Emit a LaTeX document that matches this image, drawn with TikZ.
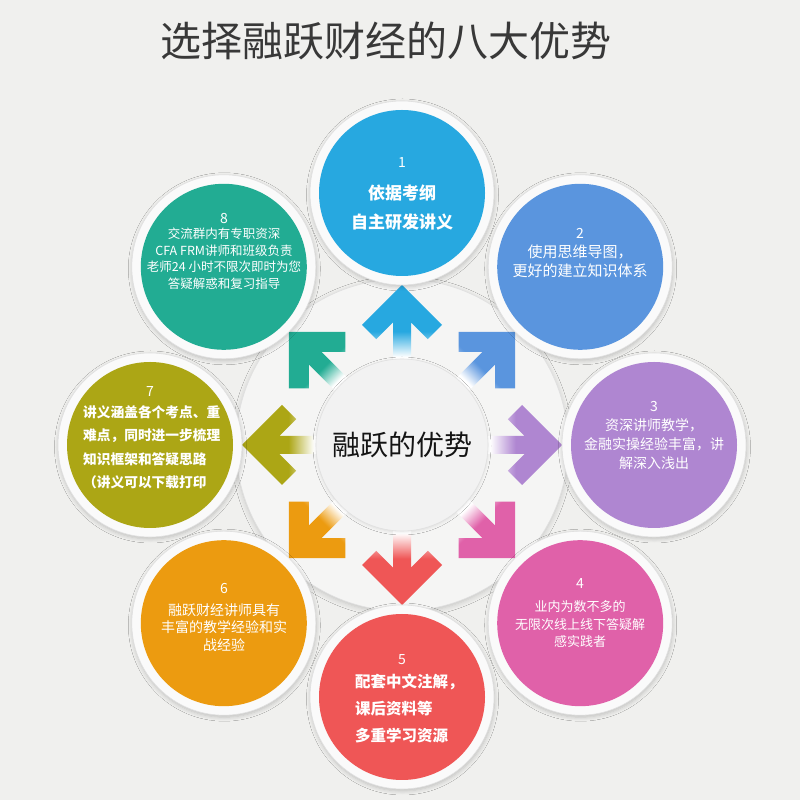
\documentclass[tikz,border=0pt]{standalone}
\usepackage{fontspec}
\setmainfont{Noto Sans CJK SC}
\usetikzlibrary{calc,shadows.blur}
\definecolor{bg}{HTML}{F0F0EE}
\definecolor{diskc}{HTML}{F5F5F4}
\definecolor{innerc}{HTML}{F2F2F2}
\definecolor{ringc}{HTML}{FAFAFA}
\definecolor{cA}{HTML}{27A8E0}
\definecolor{cB}{HTML}{5A95DE}
\definecolor{cC}{HTML}{AF86D1}
\definecolor{cD}{HTML}{E061A9}
\definecolor{cE}{HTML}{EF5656}
\definecolor{cF}{HTML}{EC9B10}
\definecolor{cG}{HTML}{ACA615}
\definecolor{cH}{HTML}{22AC93}
\colorlet{arrcol}{white}
\pgfdeclareverticalshading[arrcol]{arrowfade}{100bp}{color(0bp)=(white); color(30bp)=(white); color(46bp)=(arrcol); color(100bp)=(arrcol)}
\tikzset{
  ring/.style={circle, inner sep=0pt, minimum size=184pt, fill=ringc, draw=black!12, line width=0.6pt,
    blur shadow={shadow blur steps=6, shadow xshift=0.5pt, shadow yshift=-2pt, shadow blur radius=4pt, shadow opacity=20}},
  disc/.style={circle, inner sep=0pt, minimum size=166pt},
  numlbl/.style={text=white, inner sep=0pt, font=\fontsize{14}{16}\selectfont},
  txtlbl/.style={text=white, inner sep=0pt, align=center},
}
\begin{document}
\begin{tikzpicture}[x=1pt,y=1pt]
\useasboundingbox (0,0) rectangle (800,800);
\fill[bg] (0,0) rectangle (800,800);
% title
\node[text=black!78, font=\fontsize{41}{43}\selectfont] (title) at (386,759) {选择融跃财经的八大优势};
% big disk
\node[circle, inner sep=0pt, minimum size=332pt, fill=diskc, draw=black!12, line width=0.6pt,
  blur shadow={shadow blur steps=6, shadow xshift=0pt, shadow yshift=-2pt, shadow blur radius=5pt, shadow opacity=18}] (big) at (402,355) {};
% arrows
\foreach \ang/\col in {90/cA,45/cB,0/cC,-45/cD,-90/cE,-135/cF,180/cG,135/cH}{
  \pgfmathtruncatemacro\sa{\ang-90}
  \begin{scope}[shift={(402,355)}, rotate=\ang]
    \colorlet{arrcol}{\col}
    \shade[shading=arrowfade, shading angle=\sa] (160,0) -- (120,40) -- (105.86,25.86) -- (122.72,9) -- (80,9) -- (80,-9) -- (122.72,-9) -- (105.86,-25.86) -- (120,-40) -- cycle;
  \end{scope}
}
% inner disk
\node[circle, inner sep=0pt, minimum size=172pt, fill=innerc, draw=black!12, line width=0.6pt,
  blur shadow={shadow blur steps=5, shadow xshift=0pt, shadow yshift=-1pt, shadow blur radius=3pt, shadow opacity=10}] (inner) at (402,355) {};
\node[text=black!92, font=\fontsize{28}{30}\selectfont] (ctr) at (inner) {融跃的优势};
% outer circles
\foreach \i/\ang/\col in {1/90/cA,2/45/cB,3/0/cC,4/-45/cD,5/-90/cE,6/-135/cF,7/180/cG,8/135/cH}{
  \node[ring] (r\i) at ($(402,355)+(\ang:252)$) {};
  \node[disc, fill=\col] (c\i) at (r\i) {};
}
% numbers
\node[numlbl] (n1) at (402,637) {1};
\node[numlbl] (n2) at (580,567) {2};
\node[numlbl] (n3) at (654,393) {3};
\node[numlbl] (n4) at (580,216) {4};
\node[numlbl] (n5) at (402,140) {5};
\node[numlbl] (n6) at (224,211) {6};
\node[numlbl] (n7) at (150,408) {7};
\node[numlbl] (n8) at (224,581) {8};
% texts
\node[txtlbl, font=\bfseries\fontsize{17}{29}\selectfont] (t1) at (402,592.5) {依据考纲\\自主研发讲义};
\node[txtlbl, font=\fontsize{15}{19}\selectfont] (t2) at (580,538.5) {使用思维导图，\\更好的建立知识体系};
\node[txtlbl, font=\fontsize{14}{19}\selectfont] (t3) at (654,356) {资深讲师教学，\\金融实操经验丰富，讲\\解深入浅出};
\node[txtlbl, font=\fontsize{13}{17.5}\selectfont] (t4) at (580,175.5) {业内为数不多的\\无限次线上线下答疑解\\感实践者};
\node[txtlbl, align=left, anchor=west, font=\bfseries\fontsize{15.5}{27}\selectfont] (t5) at (355,91) {配套中文注解，\\课后资料等\\多重学习资源};
\node[txtlbl, font=\fontsize{14}{17.5}\selectfont] (t6) at (224,172.5) {融跃财经讲师具有\\丰富的教学经验和实\\战经验};
\node[txtlbl, align=left, anchor=west, font=\bfseries\fontsize{13.7}{23.5}\selectfont] (t7) at (83,352.5) {讲义涵盖各个考点、重\\难点，同时进一步梳理\\知识框架和答疑思路\\（讲义可以下载打印};
\node[txtlbl, font=\fontsize{12.5}{16.5}\selectfont] (t8) at (224,541.5) {交流群内有专职资深\\CFA FRM讲师和班级负责\\老师24 小时不限次即时为您\\答疑解惑和复习指导};
\end{tikzpicture}
\end{document}
